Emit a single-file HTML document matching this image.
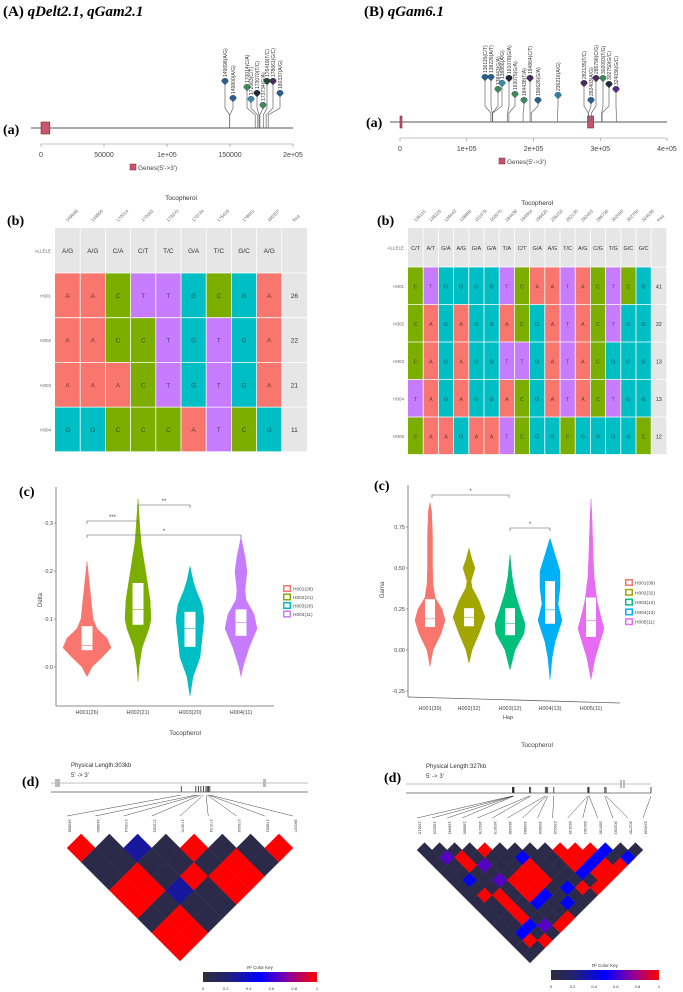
<!DOCTYPE html>
<html><head><meta charset="utf-8">
<style>
html,body{margin:0;padding:0;background:#fff;}
svg{display:block;}
</style></head>
<body>
<svg id="fig" xmlns="http://www.w3.org/2000/svg" width="683" height="992" viewBox="0 0 683 992"></svg>
<script>
// ===== DATA =====
const lolA_pos=[149698,149800,170014,172063,173070,173734,176419,178661,180337];
const lolA_lab=["149698(A/G)","149800(A/G)","170014(C/A)","172063(C/T)","173070(T/C)","173734(G/A)","176419(T/C)","178661(G/C)","180337(A/G)"];
const lolA_ticks=[0,50000,100000,150000,200000];
const lolA_tickLab=["0","50000","1e+05","150000","2e+05"];
const lolB_pos=[136115,138226,138443,138866,161078,163075,184438,194864,196626,236216,282135,282403,286796,302093,302750,324036];
const lolB_lab=["136115(C/T)","138226(A/T)","138443(G/A)","138866(A/G)","161078(G/A)","163075(G/A)","184438(T/A)","194864(C/T)","196626(G/A)","236216(A/G)","282135(T/C)","282403(A/G)","286796(C/G)","302093(T/G)","302750(G/C)","324036(G/C)"];
const lolB_ticks=[0,100000,200000,300000,400000];
const lolB_tickLab=["0","1e+05","2e+05","3e+05","4e+05"];

const tabA_snps=["149698","149800","170014","172063","173070","173734","176419","178661","180337"];
const tabA_allele=["A/G","A/G","C/A","C/T","T/C","G/A","T/C","G/C","A/G"];
const tabA_haps=["H001","H002","H003","H004"];
const tabA_seq=["AACTTGCGA","AACCTGTGA","AAACTGTGA","GGCCCATCG"];
const tabA_freq=[26,22,21,11];
const tabB_snps=["136115","138226","138443","138866","161078","163075","184438","194864","196626","236216","282135","282403","286796","302093","302750","324036"];
const tabB_allele=["C/T","A/T","G/A","A/G","G/A","G/A","T/A","C/T","G/A","A/G","T/C","A/G","C/G","T/G","G/C","G/C"];
const tabB_haps=["H001","H002","H003","H004","H005"];
const tabB_seq=["CTGGGGTCAATACTCG","CAGAGGACGATACTGG","CAGAGGTTGATACGGG","TAGAGGACGATACTGG","CAAGAATCGGCGGGGC"];
const tabB_freq=[41,32,13,13,12];

// violins: profile value levels and relative density (half-width)
const vioA_groups=["H001(26)","H002(21)","H003(20)","H004(11)"];
const vioA_levels=[[-0.02,0,0.02,0.04,0.06,0.08,0.1,0.14,0.18,0.22],[-0.03,0,0.04,0.08,0.1,0.14,0.18,0.22,0.26,0.3,0.35],[-0.06,-0.02,0.02,0.06,0.1,0.13,0.16,0.18,0.21],[-0.02,0,0.04,0.08,0.11,0.14,0.16,0.2,0.23,0.27]];
const vioA_dens=[[0,5,15,24,20,10,6,4,2,0],[0,1,4,11,13,12,9,6,3,1.5,0],[0,3,10,12,14,12,6,3,0],[0,2,8,16,13,5,4,6,4,0]];
const vioA_q1=[0.035,0.088,0.042,0.065];
const vioA_med=[0.045,0.12,0.08,0.093];
const vioA_q3=[0.085,0.175,0.115,0.12];
const vioA_ticks=[0,0.1,0.2,0.3];
const vioA_tickLab=["0.0","0.1","0.2","0.3"];

const vioB_groups=["H001(39)","H002(32)","H003(12)","H004(13)","H005(11)"];
const vioB_levels=[[-0.1,0,0.1,0.18,0.25,0.32,0.4,0.5,0.7,0.85,0.9],[-0.08,0,0.1,0.2,0.3,0.38,0.42,0.5,0.55,0.62],[-0.12,0,0.1,0.16,0.25,0.35,0.45,0.58],[-0.18,-0.05,0.05,0.18,0.28,0.38,0.48,0.58,0.68],[-0.18,-0.05,0.05,0.13,0.2,0.3,0.45,0.6,0.8,0.92]];
const vioB_dens=[[0,3,11,15,12,5,3,2.5,2.5,1.5,0],[0,3,10,16,10,3,2,6,3,0],[0,5,14,15,10,5,2,0],[0,2,5,12,8,10,10,5,0],[0,4,9,13,10,6,3,2,1,0]];
const vioB_q1=[0.14,0.145,0.09,0.16,0.08];
const vioB_med=[0.19,0.2,0.16,0.245,0.18];
const vioB_q3=[0.31,0.255,0.255,0.42,0.32];
const vioB_ticks=[-0.25,0,0.25,0.5,0.75];
const vioB_tickLab=["-0.25","0.00","0.25","0.50","0.75"];

// LD r2: default value for unlisted pairs
const ldA_n=9;
const ldA_labels=["149698","149800","170014","172063","173070","173734","176419","178661","180337"];
const ldA_i=[0,4,7,5,4,5,4,1,0,1,0,3,1,0,1,0,2,2];
const ldA_j=[1,5,8,7,7,8,8,4,4,5,5,6,7,7,8,8,3,6];
const ldA_r2=[1,1,1,1,1,1,1,1,1,1,1,1,1,1,1,1,0.3,0.3];
const ldB_n=16;
const ldB_labels=["136115","138226","138443","138866","161078","163075","184438","194864","196626","236216","282135","282403","286796","302093","302750","324036"];
const ldB_i=[4,9,10,11,9,10,9,2,2,1,4,4,4,5,5,5,6,6,6,2,2,2,2,4,5,8,10,11,12,10,11,9,1,2, 12,13,6,1,7,6,4,5,2,1,11,10,9, 1,3,3,3];
const ldB_j=[5,10,11,12,11,12,12,4,5,8,9,10,11,9,10,11,9,10,11,9,10,11,12,15,15,14,15,15,15,14,14,15,14,15, 13,15,8,6,13,14,12,12,13,13,13,13,13, 3,6,8,14];
const ldB_r2=[1,1,1,1,1,1,1,1,1,1,1,1,1,1,1,1,1,1,1,1,1,1,1,1,1,1,1,1,1,1,1,1,1,1, 0.5,0.5,0.5,0.45,0.5,0.5,0.5,0.5,0.5,0.5,0.5,0.5,0.5, 0.65,0.65,0.65,0.65];

// ===== HELPERS =====
const NS='http://www.w3.org/2000/svg';
const svg=document.getElementById('fig');
function mk(tag,attrs,name,parent){
  const el=document.createElementNS(NS,tag);
  for(const k in attrs) el.setAttribute(k,attrs[k]);
  
  
  (parent||svg).appendChild(el);
  return el;
}
function txt(x,y,s,size,name,extra){
  const t=mk('text',Object.assign({x:x,y:y,'font-size':size,'font-family':'Liberation Sans, sans-serif',fill:'#333'},extra||{}),name);
  t.textContent=s;return t;
}
function serif(x,y,s,size,name,italic){
  const t=mk('text',{x:x,y:y,'font-size':size,'font-family':'Liberation Serif, serif','font-weight':'bold',fill:'#000'},name);
  t.textContent=s;return t;
}
const LETTER={A:'#f8766d',C:'#7cae00',G:'#00bfc4',T:'#c77cff'};

// ===== PANEL TITLES =====
(function(){
  const a=mk('text',{x:3,y:16,'font-size':15,'font-family':'Liberation Serif, serif','font-weight':'bold'},'panel-a-title');
  a.innerHTML='(A) <tspan font-style="italic">qDelt2.1</tspan>, <tspan font-style="italic">qGam2.1</tspan>';
  const b=mk('text',{x:364,y:16,'font-size':15,'font-family':'Liberation Serif, serif','font-weight':'bold'},'panel-b-title');
  b.innerHTML='(B) <tspan font-style="italic">qGam6.1</tspan>';
})();
serif(3,134,'(a)',14,'label-a-left');
serif(366,127,'(a)',14,'label-a-right');
serif(7,225,'(b)',14,'label-b-left');
serif(377,225,'(b)',14,'label-b-right');
serif(19,496,'(c)',14,'label-c-left');
serif(374,490,'(c)',14,'label-c-right');
serif(22,786,'(d)',14,'label-d-left');
serif(384,782,'(d)',14,'label-d-right');

// ===== LOLLIPOP =====
function lollipop(opt){
  const sx=v=>opt.x0+(v-opt.dmin)/(opt.dmax-opt.dmin)*(opt.x1-opt.x0);
  mk('line',{x1:opt.x0-10,x2:opt.x1,y1:opt.ly,y2:opt.ly,stroke:'#555','stroke-width':1},opt.id+'-track');
  opt.genes.forEach((g,k)=>mk('rect',{x:sx(g[0]),y:opt.ly-6,width:Math.max(2,sx(g[1])-sx(g[0])),height:12,fill:'#c8566a',stroke:'#7a2a3a','stroke-width':0.6},opt.id+'-gene-box'));
  mk('line',{x1:opt.x0,x2:opt.x1,y1:opt.ly+16,y2:opt.ly+16,stroke:'#888','stroke-width':0.6},opt.id+'-x-axis');
  opt.ticks.forEach((t,k)=>{
    mk('line',{x1:sx(t),x2:sx(t),y1:opt.ly+16,y2:opt.ly+19,stroke:'#888','stroke-width':0.6},opt.id+'-tick');
    txt(sx(t),opt.ly+29,opt.tickLab[k],7,opt.id+'-tick-label',{'text-anchor':'middle',fill:'#444'});
  });
  mk('rect',{x:opt.legX,y:opt.ly+36,width:6,height:6,fill:'#c8566a',stroke:'#7a2a3a','stroke-width':0.5},opt.id+'-legend-key');
  txt(opt.legX+8,opt.ly+42,"Genes(5'->3')",6.5,opt.id+'-legend-label',{fill:'#444'});
  opt.pos.forEach((p,k)=>{
    const bx=sx(p),hx=opt.hx[k],hy=opt.hy[k];
    mk('polyline',{points:`${hx},${hy} ${hx},${opt.knee} ${bx},${opt.knee+7} ${bx},${opt.ly}`,fill:'none',stroke:'#666','stroke-width':0.7},opt.id+'-stem');
    mk('path',{d:`M${hx-3.4},${hy-3.5} A3.4,3.4 0 1 1 ${hx+3.4},${hy-3.5} L${hx},${hy} Z`,fill:opt.col[k],stroke:'#333','stroke-width':0.3},opt.id+'-snp-head');
    txt(hx+2,hy-8,opt.lab[k],5,opt.id+'-snp-label',{transform:`rotate(-90 ${hx+2} ${hy-8})`,fill:'#333'});
  });
}
lollipop({id:'lolA',x0:41,x1:293,dmin:0,dmax:200000,ly:128,knee:108,genes:[[0,7000]],ticks:lolA_ticks,tickLab:lolA_tickLab,legX:130,pos:lolA_pos,lab:lolA_lab,
  hx:[225,233,247,251,257,263,267,273,280],hy:[85,102,91,103,97,109,85,85,97],
  col:['#2b5f8f','#2b5f8f','#3c8a5a','#3a8aa8','#1f2a3a','#3c8a5a','#24483a','#4a2a5a','#2b5f8f']});
lollipop({id:'lolB',x0:400,x1:667,dmin:0,dmax:400000,ly:122,knee:106,genes:[[0,2500],[281000,290000]],ticks:lolB_ticks,tickLab:lolB_tickLab,legX:499,pos:lolB_pos,lab:lolB_lab,
  hx:[485,491,498,502,509,515,524,530,538,558,584,591,596,603,609,616],hy:[81,81,93,87,82,98,104,82,104,99,87,104,82,82,88,93],
  col:['#2b5f8f','#2b5f8f','#3c8a5a','#3a8aa8','#1f2a3a','#3c8a5a','#3c8a5a','#4a2a5a','#2b5f8f','#2b7fa8','#4a2a5a','#2b5f8f','#4a2a5a','#3c8a5a','#1f2a3a','#5a2a8a']});

// ===== TABLES =====
function table(opt){
  const n=opt.snps.length;
  const w=opt.cw*(n+1), h=opt.hh+opt.rh*opt.haps.length;
  mk('rect',{x:opt.x0,y:opt.y0,width:w,height:h,fill:'#e6e6e6'},opt.id+'-background');
  txt(opt.x0+w/2,opt.titleY,'Tocopherol',6.5,opt.id+'-title',{'text-anchor':'middle',fill:'#333'});
  opt.snps.concat(['freq']).forEach((s,k)=>{
    const x=opt.x0+opt.cw*(k+0.5), y=opt.y0-6;
    txt(x,y,s,4.5,opt.id+'-col-header',{transform:`rotate(-45 ${x} ${y})`,fill:'#666'});
  });
  txt(opt.x0-4,opt.y0+opt.hh/2+2,'ALLELE',4.5,opt.id+'-row-label',{'text-anchor':'end',fill:'#666'});
  opt.allele.forEach((a,k)=>txt(opt.x0+opt.cw*(k+0.5),opt.y0+opt.hh/2+2.5,a,opt.fs,opt.id+'-allele',{'text-anchor':'middle',fill:'#333'}));
  opt.haps.forEach((hp,r)=>{
    const y=opt.y0+opt.hh+opt.rh*r;
    txt(opt.x0-4,y+opt.rh/2+2,hp,4.5,opt.id+'-row-label',{'text-anchor':'end',fill:'#666'});
    opt.seq[r].split('').forEach((c,k)=>{
      mk('rect',{x:opt.x0+opt.cw*k,y:y,width:opt.cw,height:opt.rh,fill:LETTER[c]},opt.id+'-cell');
      txt(opt.x0+opt.cw*(k+0.5),y+opt.rh/2+2.5,c,opt.fs,opt.id+'-cell-letter',{'text-anchor':'middle',fill:'rgba(0,0,0,0.55)'});
    });
    txt(opt.x0+opt.cw*(n+0.5),y+opt.rh/2+2.5,String(opt.freq[r]),opt.fs,opt.id+'-freq',{'text-anchor':'middle',fill:'#333'});
  });
  for(let k=1;k<=n;k++) mk('line',{x1:opt.x0+opt.cw*k,x2:opt.x0+opt.cw*k,y1:opt.y0,y2:opt.y0+h,stroke:'#fff','stroke-width':0.8},opt.id+'-grid');
  for(let r=0;r<=opt.haps.length;r++) mk('line',{x1:opt.x0,x2:opt.x0+w,y1:opt.y0+opt.hh+opt.rh*r,y2:opt.y0+opt.hh+opt.rh*r,stroke:'#fff','stroke-width':0.8},opt.id+'-grid');
}
table({id:'tabA',x0:55,y0:228,cw:25.2,hh:45,rh:44.7,titleY:200,fs:6.5,snps:tabA_snps,allele:tabA_allele,haps:tabA_haps,seq:tabA_seq,freq:tabA_freq});
table({id:'tabB',x0:408,y0:228,cw:15.2,hh:39,rh:37.5,titleY:205,fs:5.5,snps:tabB_snps,allele:tabB_allele,haps:tabB_haps,seq:tabB_seq,freq:tabB_freq});

// ===== VIOLINS =====
function violin(opt){
  const sy=v=>opt.y0-(v-0)*opt.k;
  mk('line',{x1:opt.ax,x2:opt.ax,y1:opt.axTop,y2:opt.axBot,stroke:'#666','stroke-width':0.8},opt.id+'-y-axis');
  mk('line',{x1:opt.ax,x2:opt.axRight,y1:opt.axBot,y2:opt.axBot2,stroke:'#666','stroke-width':0.8},opt.id+'-x-axis');
  opt.ticks.forEach((t,k)=>{
    mk('line',{x1:opt.ax-2,x2:opt.ax,y1:sy(t),y2:sy(t),stroke:'#666','stroke-width':0.6},opt.id+'-y-tick');
    txt(opt.ax-3,sy(t)+2,opt.tickLab[k],5.5,opt.id+'-y-tick-label',{'text-anchor':'end',fill:'#444'});
  });
  txt(opt.yLabX,opt.yLabY,opt.yLab,6,opt.id+'-y-axis-title',{transform:`rotate(-90 ${opt.yLabX} ${opt.yLabY})`,'text-anchor':'middle',fill:'#444'});
  opt.groups.forEach((g,i)=>{
    const cx=opt.cx[i],L=opt.levels[i],D=opt.dens[i];
    let right=L.map((v,k)=>`${cx+D[k]*opt.ws},${sy(v)}`);
    let left=L.slice().reverse().map((v,k)=>`${cx-D[L.length-1-k]*opt.ws},${sy(v)}`);
    mk('polygon',{points:right.concat(left).join(' '),fill:opt.col[i],stroke:opt.col[i],'stroke-width':0.5,'stroke-linejoin':'round'},opt.id+'-violin-'+(i+1));
    mk('rect',{x:cx-opt.bw/2,y:sy(opt.q3[i]),width:opt.bw,height:sy(opt.q1[i])-sy(opt.q3[i]),fill:'#fff'},opt.id+'-box-'+(i+1));
    mk('line',{x1:cx-opt.bw/2,x2:cx+opt.bw/2,y1:sy(opt.med[i]),y2:sy(opt.med[i]),stroke:opt.col[i],'stroke-width':0.6},opt.id+'-median-'+(i+1));
    txt(cx,opt.labY,g,5.5,opt.id+'-x-tick-label',{'text-anchor':'middle',fill:'#444'});
    const ly=opt.legY+opt.legDy*i;
    mk('rect',{x:opt.legX,y:ly-3,width:8,height:7,fill:opt.col[i]},opt.id+'-legend-key');
    mk('rect',{x:opt.legX+1.5,y:ly-1.5,width:5,height:4,fill:'#fff'},opt.id+'-legend-key-box');
    txt(opt.legX+10,ly+2.5,g,4.8,opt.id+'-legend-label',{fill:'#444'});
  });
  opt.sig.forEach((s,k)=>{
    const y=s[2];
    mk('polyline',{points:`${s[0]},${y+3} ${s[0]},${y} ${s[1]},${y} ${s[1]},${y+3}`,fill:'none',stroke:'#555','stroke-width':0.6},opt.id+'-sig-bracket');
    txt((s[0]+s[1])/2,y-2,s[3],6,opt.id+'-sig-label',{'text-anchor':'middle',fill:'#444'});
  });
  if(opt.xLab) txt(opt.xLabX,opt.xLabY,opt.xLab,5.5,opt.id+'-x-axis-title',{'text-anchor':'middle',fill:'#444'});
  txt(opt.tX,opt.tY,'Tocopherol',6.5,opt.id+'-caption',{'text-anchor':'middle',fill:'#444'});
}
violin({id:'vioA',y0:667,k:480,ax:56,axTop:487,axBot:706,axBot2:706,axRight:274,ticks:vioA_ticks,tickLab:vioA_tickLab,yLab:'Delta',yLabX:42,yLabY:600,
  groups:vioA_groups,levels:vioA_levels,dens:vioA_dens,q1:vioA_q1,med:vioA_med,q3:vioA_q3,cx:[87,138,190,241],ws:1,bw:11,labY:714,
  col:['#f8766d','#7cae00','#00bfc4','#c77cff'],legX:283,legY:588,legDy:8.5,
  sig:[[87,138,521,'***'],[138,190,505,'**'],[87,241,535,'*']],tX:185,tY:735});
violin({id:'vioB',y0:650,k:164,ax:408,axTop:485,axBot:697,axBot2:703,axRight:620,ticks:vioB_ticks,tickLab:vioB_tickLab,yLab:'Gama',yLabX:384,yLabY:590,
  groups:vioB_groups,levels:vioB_levels,dens:vioB_dens,q1:vioB_q1,med:vioB_med,q3:vioB_q3,cx:[430,469,510,550,591],ws:1,bw:10,labY:710,
  col:['#f8766d','#a3a500','#00bf7d','#00b0f6','#e76bf3'],legX:625,legY:582,legDy:9.8,
  sig:[[432,509,495,'*'],[510,550,528,'*']],xLab:'Hap',xLabX:508,xLabY:719,tX:537,tY:747});

// ===== LD HEATMAPS =====
function ldColor(r){
  const stops=[[0,[45,45,60]],[0.2,[35,35,110]],[0.5,[0,0,255]],[0.75,[140,0,160]],[1,[255,0,0]]];
  for(let k=1;k<stops.length;k++){ if(r<=stops[k][0]){const a=stops[k-1],b=stops[k],t=(r-a[0])/(b[0]-a[0]);
    return 'rgb('+a[1].map((c,m)=>Math.round(c+(b[1][m]-c)*t)).join(',')+')';}}
  return 'rgb(255,0,0)';
}
function ld(opt){
  const n=opt.n,h=(opt.xr-opt.xl)/(n-1)/2;
  const M={};
  opt.I.forEach((i,k)=>{M[i+','+opt.J[k]]=opt.R[k];});
  for(let i=0;i<n;i++)for(let j=i+1;j<n;j++){
    const r=M[i+','+j]!==undefined?M[i+','+j]:0.05;
    const cx=opt.xl+h*(i+j), cy=opt.yt+h*(j-i-1);
    mk('polygon',{points:`${cx-h},${cy} ${cx},${cy-h} ${cx+h},${cy} ${cx},${cy+h}`,fill:ldColor(r),stroke:ldColor(r),'stroke-width':0.3},opt.id+'-cell');
  }
  // labels & connectors
  opt.labels.forEach((l,k)=>{
    const lx=opt.xl+2*h*k;
    const mx=opt.tx0+(opt.mk[k])*(opt.tx1-opt.tx0);
    mk('line',{x1:mx,y1:opt.trackY+3,x2:lx,y2:opt.labTop-3,stroke:'#444','stroke-width':0.5},opt.id+'-connector');
    mk('line',{x1:mx,y1:opt.trackY-6,x2:mx,y2:opt.trackY,stroke:'#222','stroke-width':0.8},opt.id+'-snp-marker');
    txt(lx+1.5,opt.labTop,l,4,opt.id+'-snp-label',{transform:`rotate(90 ${lx+1.5} ${opt.labTop})`,fill:'#333'});
  });
  mk('line',{x1:opt.tx0-2,x2:opt.tx1,y1:opt.trackY-9,y2:opt.trackY-9,stroke:'#aaa','stroke-width':0.8},opt.id+'-gene-track');
  mk('line',{x1:opt.tx0-2,x2:opt.tx1,y1:opt.trackY,y2:opt.trackY,stroke:'#555','stroke-width':0.8},opt.id+'-snp-track');
  opt.boxes.forEach(b=>mk('rect',{x:b[0],y:opt.trackY-13,width:b[1],height:8,fill:'#bbb'},opt.id+'-gene-box'));
  txt(opt.tx0+18,opt.trackY-25,opt.lenLab,6,opt.id+'-length-label',{fill:'#333'});
  txt(opt.tx0+18,opt.trackY-15,"5' -> 3'",6,opt.id+'-direction-label',{fill:'#333'});
  // color key
  const g=mk('defs',{},opt.id+'-defs');
  const lg=mk('linearGradient',{id:opt.id+'grad',x1:0,x2:1,y1:0,y2:0},opt.id+'-gradient',g);
  [0,0.2,0.5,0.75,1].forEach(s=>mk('stop',{offset:s,'stop-color':ldColor(s)},opt.id+'-grad-stop',lg));
  mk('rect',{x:opt.kx,y:opt.ky,width:opt.kw,height:10,fill:`url(#${opt.id}grad)`},opt.id+'-color-key');
  txt(opt.kx+opt.kw/2,opt.ky-3,'R\u00b2 Color Key',4.5,opt.id+'-color-key-title',{'text-anchor':'middle',fill:'#333'});
  [0,0.2,0.4,0.6,0.8,1].forEach(t=>txt(opt.kx+opt.kw*t,opt.ky+18,String(t),4,opt.id+'-color-key-tick',{'text-anchor':'middle',fill:'#333'}));
}
ld({id:'ldA',n:ldA_n,labels:ldA_labels,I:ldA_i,J:ldA_j,R:ldA_r2,xl:67,xr:293,yt:848,tx0:53,tx1:308,trackY:792,labTop:819,
  mk:[0.503,0.56,0.57,0.58,0.59,0.6,0.605,0.61,0.615],boxes:[[55,5],[263,3]],lenLab:'Physical Length:303kb',kx:203,ky:972,kw:114});
ld({id:'ldB',n:ldB_n,labels:ldB_labels,I:ldB_i,J:ldB_j,R:ldB_r2,xl:417,xr:643,yt:850,tx0:408,tx1:651,trackY:793,labTop:821,
  mk:[0.43,0.432,0.434,0.436,0.5,0.505,0.565,0.57,0.575,0.6,0.74,0.742,0.745,0.81,0.815,1.0],boxes:[[620,2],[623,2]],lenLab:'Physical Length:327kb',kx:551,ky:970,kw:108});
</script>
</body></html>
